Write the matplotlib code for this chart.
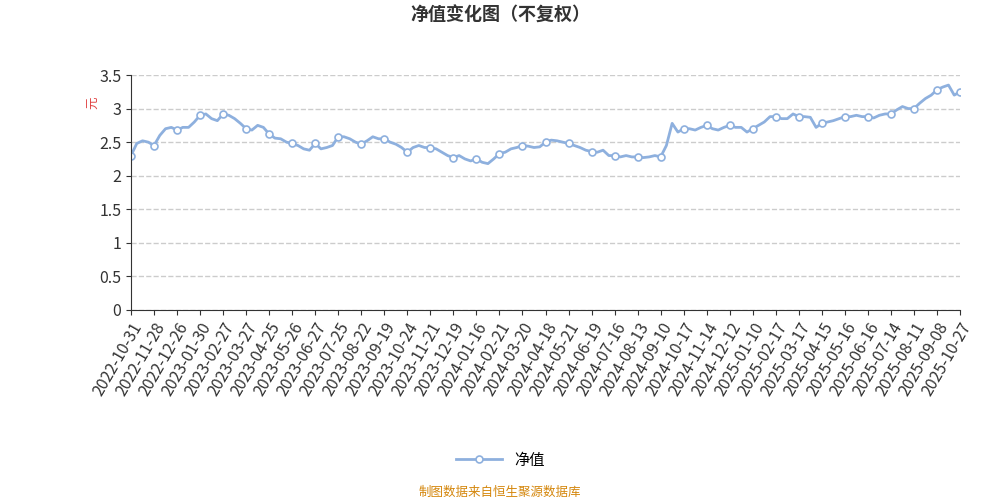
import matplotlib
matplotlib.use("Agg")
import matplotlib.pyplot as plt

plt.rcParams['font.family'] = ['Noto Sans CJK SC', 'DejaVu Sans']

tick_labels = ["2022-10-31","2022-11-28","2022-12-26","2023-01-30","2023-02-27","2023-03-27",
"2023-04-25","2023-05-26","2023-06-27","2023-07-25","2023-08-22","2023-09-19","2023-10-24",
"2023-11-21","2023-12-19","2024-01-16","2024-02-21","2024-03-20","2024-04-18","2024-05-21",
"2024-06-19","2024-07-16","2024-08-13","2024-09-10","2024-10-17","2024-11-14","2024-12-12",
"2025-01-10","2025-02-17","2025-03-17","2025-04-15","2025-05-16","2025-06-16","2025-07-14",
"2025-08-11","2025-09-08","2025-10-27"]

nav = [2.30,2.48,2.52,2.50, 2.45,2.60,2.70,2.72, 2.68,2.72,2.72,2.80, 2.90,2.92,2.85,2.82,
2.92,2.90,2.85,2.78, 2.70,2.68,2.75,2.72, 2.62,2.56,2.55,2.50, 2.48,2.45,2.40,2.38,
2.48,2.40,2.42,2.45, 2.58,2.58,2.55,2.50, 2.47,2.52,2.58,2.55, 2.55,2.50,2.47,2.42,
2.35,2.42,2.45,2.42, 2.42,2.40,2.35,2.30, 2.27,2.30,2.25,2.22, 2.25,2.20,2.18,2.25,
2.33,2.35,2.40,2.42, 2.45,2.44,2.42,2.43, 2.50,2.53,2.52,2.50, 2.48,2.45,2.42,2.38,
2.36,2.35,2.38,2.30, 2.30,2.28,2.30,2.28, 2.28,2.27,2.28,2.30, 2.28,2.45,2.78,2.65,
2.70,2.70,2.68,2.72, 2.75,2.70,2.68,2.72, 2.75,2.72,2.72,2.65, 2.70,2.75,2.80,2.88,
2.88,2.85,2.85,2.92, 2.88,2.88,2.87,2.72, 2.78,2.80,2.82,2.85, 2.88,2.88,2.90,2.88,
2.88,2.86,2.90,2.92, 2.92,2.98,3.03,3.00, 3.00,3.08,3.15,3.20, 3.28,3.32,3.35,3.20,
3.25]

fig = plt.figure(figsize=(10, 5), dpi=100)
ax = fig.add_axes([0.131, 0.38, 0.829, 0.47])
x = list(range(len(nav)))
ax.plot(x, nav, color='#8eb0de', lw=2, marker='o', markevery=4, ms=5,
        mfc='white', mec='#8eb0de', mew=1.2, label='净值')
ax.set_xlim(0, len(nav) - 1)
ax.set_ylim(0, 3.5)
ax.set_yticks([0, 0.5, 1, 1.5, 2, 2.5, 3, 3.5])
ax.set_yticklabels(['0', '0.5', '1', '1.5', '2', '2.5', '3', '3.5'])
ax.set_xticks(range(0, len(nav), 4))
ax.set_xticklabels(tick_labels, rotation=60, ha='right', rotation_mode='anchor')
ax.tick_params(labelsize=11.5, colors='#333333')
ax.grid(axis='y', ls='--', color='#cccccc', lw=1)
for s in ['top', 'right']:
    ax.spines[s].set_visible(False)
ax.spines['left'].set_color('#333333')
ax.spines['bottom'].set_color('#333333')
ax.text(-0.045, 0.88, '元', transform=ax.transAxes, color='#e04040', fontsize=9,
        rotation=90, ha='center', va='center')
fig.text(0.5, 0.97, '净值变化图（不复权）', ha='center', va='center', fontsize=13,
         fontweight='bold', color='#333333')
fig.legend(loc='center', bbox_to_anchor=(0.5, 0.08), frameon=False, fontsize=11,
           handlelength=3)
fig.text(0.5, 0.015, '制图数据来自恒生聚源数据库', ha='center', va='center',
         fontsize=9, color='#d4860b')
fig.savefig('out.png')
